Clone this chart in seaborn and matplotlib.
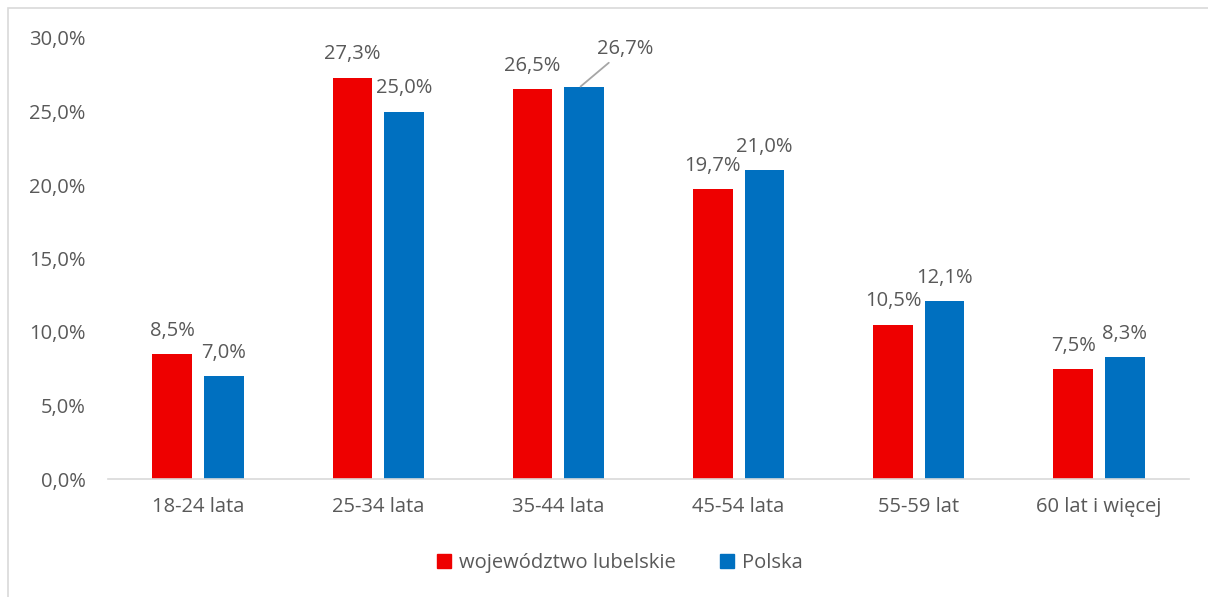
import pandas as pd
import matplotlib.pyplot as plt
import seaborn as sns

categories = ["18-24 lata", "25-34 lata", "35-44 lata", "45-54 lata", "55-59 lat", "60 lat i więcej"]
lubelskie = [8.5, 27.3, 26.5, 19.7, 10.5, 7.5]
polska = [7.0, 25.0, 26.7, 21.0, 12.1, 8.3]
series = ["województwo lubelskie", "Polska"]

df = pd.DataFrame({
    "kat": categories * 2,
    "seria": [series[0]] * len(categories) + [series[1]] * len(categories),
    "wartosc": lubelskie + polska,
})

sns.set_style("white")
plt.rcParams["font.family"] = ["Open Sans", "DejaVu Sans"]
txt = "#595959"
fs = 14.5

fig = plt.figure(figsize=(12.08, 5.97), dpi=100)
ax = fig.add_axes([108 / 1208, 1 - 479 / 597, 1081 / 1208, 441 / 597])

sns.barplot(data=df, x="kat", y="wartosc", hue="seria", order=categories,
            hue_order=series, palette=["#EE0000", "#0070C0"], saturation=1,
            width=0.572, gap=0.23, linewidth=0, ax=ax, legend=True)

ax.set_ylim(0, 30)
ax.set_xlim(-0.5, 5.5)
ax.set_yticks([0, 5, 10, 15, 20, 25, 30])
ax.set_yticklabels([f"{v:.1f}%".replace(".", ",") for v in range(0, 31, 5)])
ax.set_xlabel("")
ax.set_ylabel("")
ax.tick_params(axis="both", colors=txt, labelsize=fs, length=0)
ax.tick_params(axis="x", pad=13)
ax.tick_params(axis="y", pad=16)
for s in ["top", "right", "left"]:
    ax.spines[s].set_visible(False)
ax.spines["bottom"].set_color("#D9D9D9")
ax.spines["bottom"].set_linewidth(1.2)

# etykiety wartosci
for cont in ax.containers:
    for bar in cont:
        h = bar.get_height()
        x = bar.get_x() + bar.get_width() / 2
        lab = f"{h:.1f}%".replace(".", ",")
        if abs(h - 26.7) < 0.01:
            ax.annotate(lab, xy=(x - 0.02, h), xytext=(x + 0.23, h + 1.9),
                        ha="center", va="bottom", fontsize=fs, color=txt,
                        arrowprops=dict(arrowstyle="-", color="#A6A6A6", lw=1.3,
                                        shrinkA=1, shrinkB=0))
        else:
            ax.text(x, h + 0.9, lab, ha="center", va="bottom", fontsize=fs, color=txt)

ax.get_legend().remove()
handles = [plt.Rectangle((0, 0), 1, 1, color=c) for c in ["#EE0000", "#0070C0"]]
leg = fig.legend(handles, series, loc="center", bbox_to_anchor=(620 / 1208, 1 - 563 / 597),
                 ncol=2, frameon=False, fontsize=fs, handlelength=0.7, handleheight=0.7,
                 handletextpad=0.4, columnspacing=2.2)
for t in leg.get_texts():
    t.set_color(txt)

# ramka wykresu
fig.patches.append(plt.Rectangle((8 / 1208, -0.1), 1.2, 1 - 8 / 597 + 0.1,
                                 transform=fig.transFigure, fill=False,
                                 edgecolor="#D9D9D9", lw=1.2))

fig.savefig("out.png", dpi=100)
